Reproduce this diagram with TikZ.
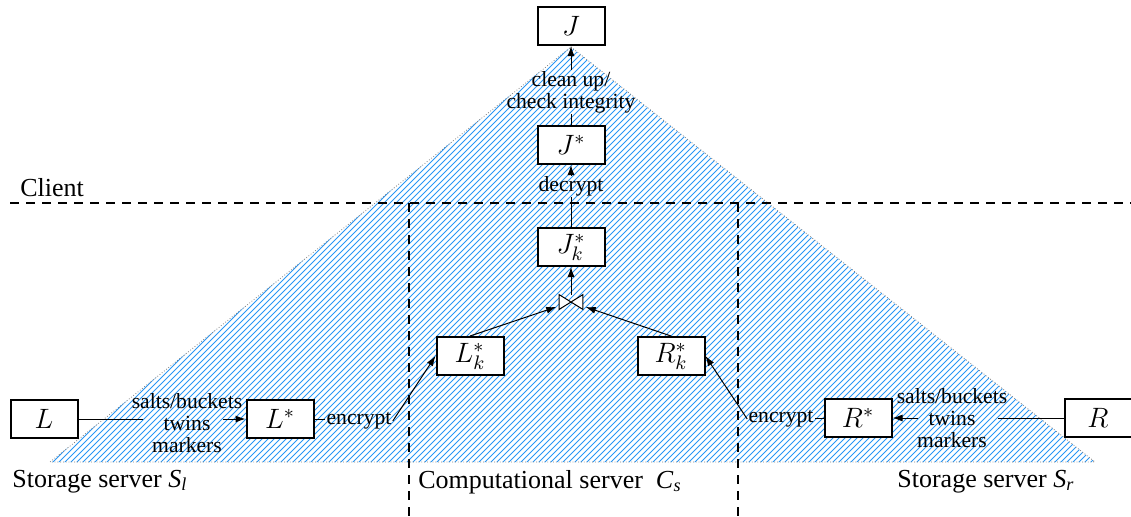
\documentclass[tikz,border=0pt]{standalone}
\usepackage{fix-cm}
\usepackage{fontspec}
\setmainfont{Liberation Serif}
\usetikzlibrary{arrows.meta}
\definecolor{hatchblue}{RGB}{40,150,245}
\begin{document}
\begin{tikzpicture}[x=0.5pt,y=-0.5pt,
  box/.style={draw,line width=1pt,fill=white,minimum width=33.5pt,minimum height=19pt,inner sep=0pt,font=\fontsize{14}{15}\selectfont},
  lbl/.style={inner sep=0.5pt,align=center,font=\fontsize{10.8}{11}\selectfont},
  big/.style={inner sep=0pt,font=\fontsize{13}{15}\selectfont},
  conn/.style={line width=0.5pt},
  arr/.style={conn,-{Latex[length=5pt,width=3.5pt]}},
  hatch/.style={draw=hatchblue,line width=0.4pt},
  sepline/.style={line width=0.8pt,dash pattern=on 4.5pt off 3.5pt}]
\useasboundingbox (0,0) rectangle (1131,516);
% shaded triangle
\begin{scope}
  \clip (571,47) -- (1095,462) -- (50,462) -- cycle;
  \foreach \c in {95,101,...,1565} \draw[hatch] (\c-480,480) -- (\c+10,-10);
\end{scope}
\draw[gray,densely dotted,thin] (571,47) -- (1095,462) -- (50,462) -- cycle;
% separators
\draw[sepline] (10,203) -- (1131,203);
\draw[sepline] (409,203) -- (409,516);
\draw[sepline] (738,203) -- (738,516);
% boxes
\node[box] (J) at (571,26) {$J$};
\node[box] (Js) at (571,145) {$J^*$};
\node[box] (Jk) at (571,247) {$J^*_k$};
\node[box] (Lk) at (470,356) {$L^*_k$};
\node[box] (Rk) at (671,356) {$R^*_k$};
\node[box] (L) at (44,419) {$L$};
\node[box] (Ls) at (280,419) {$L^*$};
\node[box] (Rs) at (858,418) {$R^*$};
\node[box] (R) at (1098,418) {$R$};
% join symbol
\node[inner sep=0pt,minimum width=11.5pt,minimum height=7pt] (bt) at (571,302) {};
\draw[line width=0.5pt,fill=white] (bt.north west) -- (bt.south east) -- (bt.north east) -- (bt.south west) -- cycle;
% labels
\node[lbl] (cu) at (571,92) {clean up/\\check integrity};
\node[lbl] (dec) at (571,186) {decrypt};
\node[lbl] (sbL) at (187,423) {salts/buckets\\twins\\markers};
\node[lbl] (sbR) at (952,418) {salts/buckets\\twins\\markers};
\node[lbl] (encL) at (359,421) {encrypt};
\node[lbl] (encR) at (781,419) {encrypt};
\node[big,anchor=base west] (cl) at (20,196) {Client};
\node[big,anchor=base west] (sl) at (12,487) {Storage server \textit{S}\textsubscript{\textit{l}}};
\node[big,anchor=base west] (cs) at (418,488) {Computational server\enspace\textit{C}\textsubscript{\textit{s}}};
\node[big,anchor=base west] (sr) at (897,487) {Storage server \textit{S}\textsubscript{\textit{r}}};
% free ends
\coordinate (cL1) at (143,419);
\coordinate (cL2) at (223,419);
\coordinate (cR1) at (998,418);
\coordinate (cR2) at (918,418);
% connectors
\draw[conn] (Js.north) -- (cu.south);
\draw[arr] (cu.north) -- (J.south);
\draw[conn] (Jk.north) -- (dec.south);
\draw[arr] (dec.north) -- (Js.south);
\draw[arr] (bt.north) -- (Jk.south);
\draw[arr,shorten >=1.5pt] (Lk.north) -- (bt);
\draw[arr,shorten >=1.5pt] (Rk.north) -- (bt);
\draw[conn] (L.east) -- (cL1);
\draw[arr] (cL2) -- (Ls.west);
\draw[conn] (Ls.east) -- (Ls.east -| encL.west);
\draw[arr] (encL.east) -- (Lk.west);
\draw[conn] (R.west) -- (cR1);
\draw[arr] (cR2) -- (Rs.east);
\draw[conn] (Rs.west) -- (Rs.west -| encR.east);
\draw[arr] (encR.west) -- (Rk.east);
\end{tikzpicture}
\end{document}
